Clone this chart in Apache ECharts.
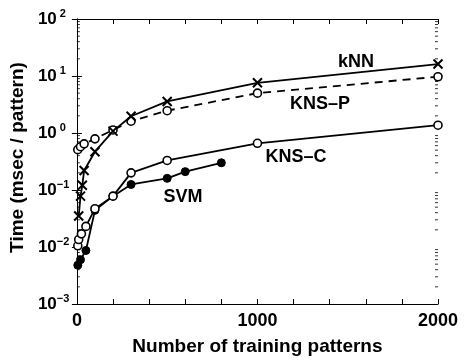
<!DOCTYPE html>
<html><head><meta charset="utf-8">
<script src="https://cdn.jsdelivr.net/npm/echarts@6/dist/echarts.min.js"></script>
<style>html,body{margin:0;padding:0;background:#fff}#c{width:464px;height:361px}</style>
</head><body><div id="c"></div>
<script>
// Data (x = number of training patterns, y = msec / pattern)
const knnX  = [10, 20, 30, 40, 100, 200, 300, 500, 1000, 2000];
const knnY  = [0.035, 0.078, 0.121, 0.22, 0.47, 1.08, 1.97, 3.58, 7.6, 16.2];
const knspX = [5, 20, 40, 100, 200, 300, 500, 1000, 2000];
const knspY = [0.51, 0.575, 0.645, 0.79, 1.13, 1.61, 2.46, 5.0, 9.7];
const knscX = [5, 10, 25, 50, 100, 200, 300, 500, 1000, 2000];
const knscY = [0.0105, 0.0135, 0.017, 0.023, 0.047, 0.078, 0.20, 0.33, 0.66, 1.37];
const svmX  = [5, 20, 50, 100, 200, 300, 500, 600, 800];
const svmY  = [0.0048, 0.006, 0.0087, 0.044, 0.078, 0.125, 0.16, 0.21, 0.30];
const xLabels = ['0', '1000', '2000'];
const seriesNames = ['kNN', 'KNS\u2013P', 'KNS\u2013C', 'SVM'];
const decades = [0.001, 0.01, 0.1, 1, 10];
const minorMultipliers = [2, 3, 4, 5, 6, 7, 8, 9];

const minorVals = [];
decades.forEach(d => minorMultipliers.forEach(m => minorVals.push([+(d * m).toPrecision(3)])));

const pairs = (xs, ys) => xs.map((x, i) => [x, ys[i]]);
const FONT = '"Liberation Sans", Arial, Helvetica, sans-serif';
const chart = echarts.init(document.getElementById('c'));
const crossPath = 'path://M0,0L10,10M10,0L0,10';
const axisLine = {show: true, lineStyle: {color: '#000', width: 1}};
const majorTick = {inside: true, length: 5, lineStyle: {color: '#000'}};
const X_MIN = 0, X_MAX = 2000;

chart.setOption({
  animation: false,
  backgroundColor: '#fff',
  grid: {left: 72, right: 26, top: 19, bottom: 53, containLabel: false},
  xAxis: [{
    type: 'value', min: X_MIN, max: X_MAX, interval: 200,
    axisLine, axisTick: majorTick,
    splitLine: {show: false},
    axisLabel: {
      margin: 8, color: '#000', fontFamily: FONT, fontWeight: 'bold', fontSize: 18,
      formatter: v => xLabels.includes(String(v)) ? String(v) : ''
    },
    name: 'Number of training patterns', nameLocation: 'middle', nameGap: 33,
    nameTextStyle: {color: '#000', fontFamily: FONT, fontWeight: 'bold', fontSize: 19}
  }, {
    type: 'value', min: X_MIN, max: X_MAX, interval: 200, position: 'top',
    axisLine, axisTick: majorTick,
    axisLabel: {show: false}, splitLine: {show: false}
  }],
  yAxis: [{
    type: 'log', logBase: 10, min: 0.001, max: 100,
    axisLine, axisTick: majorTick,
    splitLine: {show: false},
    axisLabel: {
      margin: 39, align: 'left', color: '#000', fontFamily: FONT,
      formatter: v => {
        const e = Math.round(Math.log10(v));
        return '{b|10}{e|' + (e < 0 ? '\u2212' + (-e) : (' ' + e)) + '}';
      },
      rich: {
        b: {fontSize: 17, fontWeight: 'bold', fontFamily: FONT, color: '#000'},
        e: {fontSize: 11, fontWeight: 'bold', fontFamily: FONT, color: '#000', padding: [0, 0, 10, 0]}
      }
    },
    name: 'Time (msec / pattern)', nameLocation: 'middle', nameGap: 45,
    nameTextStyle: {color: '#000', fontFamily: FONT, fontWeight: 'bold', fontSize: 19, padding: [0, 0, 0, 8]}
  }, {
    type: 'log', logBase: 10, min: 0.001, max: 100, position: 'right',
    axisLine, axisTick: majorTick,
    axisLabel: {show: false}, splitLine: {show: false}
  }],
  series: [
    {
      // minor log ticks on the left and right frame edges
      type: 'custom', data: minorVals, silent: true, clip: false, z: 1,
      encode: {y: 0},
      renderItem: (params, api) => {
        const v = api.value(0);
        const l = api.coord([X_MIN, v]);
        const r = api.coord([X_MAX, v]);
        const st = {stroke: '#000', lineWidth: 0.8};
        return {type: 'group', children: [
          {type: 'line', shape: {x1: l[0], y1: l[1], x2: l[0] + 3, y2: l[1]}, style: st},
          {type: 'line', shape: {x1: r[0] - 3, y1: r[1], x2: r[0], y2: r[1]}, style: st}
        ]};
      }
    },
    {
      name: seriesNames[3], type: 'line', data: pairs(svmX, svmY),
      symbol: 'circle', symbolSize: 8,
      lineStyle: {color: '#000', width: 1.8},
      itemStyle: {color: '#000', borderColor: '#000', borderWidth: 1}
    },
    {
      name: seriesNames[2], type: 'line', data: pairs(knscX, knscY),
      symbol: 'circle', symbolSize: 8,
      lineStyle: {color: '#000', width: 1.8},
      itemStyle: {color: '#fff', borderColor: '#000', borderWidth: 1.6}
    },
    {
      name: seriesNames[1], type: 'line', data: pairs(knspX, knspY),
      symbol: 'circle', symbolSize: 8,
      lineStyle: {color: '#000', width: 1.8, type: [8, 6]},
      itemStyle: {color: '#fff', borderColor: '#000', borderWidth: 1.6}
    },
    {
      name: seriesNames[0], type: 'line', data: pairs(knnX, knnY),
      symbol: crossPath, symbolSize: 9,
      lineStyle: {color: '#000', width: 1.8},
      itemStyle: {color: 'rgba(0,0,0,0)', borderColor: '#000', borderWidth: 2}
    }
  ],
  graphic: [
    {type: 'text', x: 356, y: 62, style: {text: seriesNames[0], fill: '#000', font: 'bold 18px ' + FONT, align: 'center', verticalAlign: 'middle'}},
    {type: 'text', x: 320, y: 104, style: {text: seriesNames[1], fill: '#000', font: 'bold 18px ' + FONT, align: 'center', verticalAlign: 'middle'}},
    {type: 'text', x: 296, y: 157, style: {text: seriesNames[2], fill: '#000', font: 'bold 18px ' + FONT, align: 'center', verticalAlign: 'middle'}},
    {type: 'text', x: 183, y: 197, style: {text: seriesNames[3], fill: '#000', font: 'bold 18px ' + FONT, align: 'center', verticalAlign: 'middle'}}
  ]
});
</script></body></html>
